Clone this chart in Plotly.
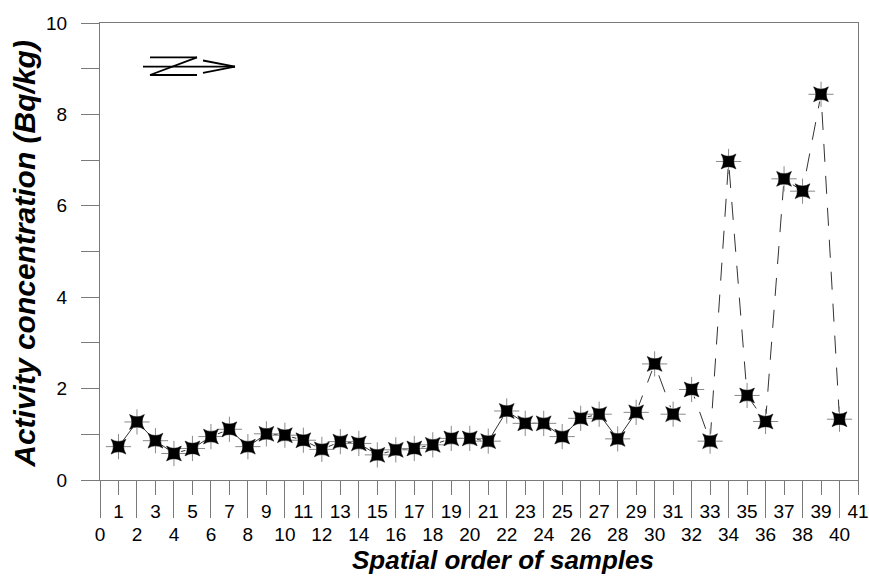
import plotly.graph_objects as go

# ---- data ----
sample_order = list(range(1, 41))
activity = [0.73, 1.27, 0.86, 0.58, 0.69, 0.95, 1.11, 0.73, 1.01, 0.98,
            0.87, 0.67, 0.84, 0.80, 0.55, 0.66, 0.69, 0.77, 0.91, 0.91,
            0.85, 1.51, 1.24, 1.24, 0.95, 1.35, 1.44, 0.90, 1.48, 2.54,
            1.44, 1.98, 0.85, 6.97, 1.85, 1.28, 6.59, 6.32, 8.44, 1.33]
solid_until = 29  # samples 1..29 joined by a solid line, after that dashed

even_ticks = list(range(0, 41, 2))
odd_ticks = list(range(1, 42, 2))
y_ticks = list(range(0, 11))
y_ticktext = [str(v) if v % 2 == 0 else "" for v in y_ticks]

x_title = "Spatial order of samples"
y_title = "Activity concentration (Bq/kg)"

FONT = "Liberation Sans, Arial, sans-serif"
AXC = "#7a7a7a"

fig = go.Figure()

i_split = sample_order.index(solid_until)
fig.add_trace(go.Scatter(x=sample_order[:i_split + 1], y=activity[:i_split + 1],
                         mode="lines", line=dict(color="#333333", width=1),
                         showlegend=False, hoverinfo="skip"))
fig.add_trace(go.Scatter(x=sample_order[i_split:], y=activity[i_split:],
                         mode="lines", line=dict(color="#333333", width=1, dash="18px,14px"),
                         showlegend=False, hoverinfo="skip"))
# white halo to break lines near markers
fig.add_trace(go.Scatter(x=sample_order, y=activity, mode="markers",
                         marker=dict(symbol="circle", size=15, color="white", line=dict(width=0)),
                         showlegend=False, hoverinfo="skip"))
fig.add_trace(go.Scatter(x=sample_order, y=activity, mode="markers",
                         marker=dict(symbol="cross-thin", size=18, line=dict(color="#8a8a8a", width=1)),
                         showlegend=False, hoverinfo="skip"))
fig.add_trace(go.Scatter(x=sample_order, y=activity, mode="markers",
                         marker=dict(symbol="star-diamond", size=15, angle=45, color="black",
                                     line=dict(color="black", width=0.5)),
                         showlegend=False))
# invisible trace for the odd-number axis
fig.add_trace(go.Scatter(x=[odd_ticks[0]], y=[0], xaxis="x2", mode="markers",
                         marker=dict(opacity=0), showlegend=False, hoverinfo="skip"))

fig.update_layout(
    template="none",
    width=869, height=581,
    margin=dict(l=100, r=11, t=23, b=101, pad=0),
    paper_bgcolor="white", plot_bgcolor="white",
    font=dict(family=FONT, size=19, color="black"),
    xaxis=dict(range=[0, 41], tickmode="array", tickvals=even_ticks,
               ticktext=[str(v) for v in even_ticks], automargin=False,
               ticks="outside", ticklen=37, tickwidth=1, tickcolor=AXC,
               showline=True, linecolor=AXC, linewidth=1, mirror=True,
               showgrid=False, zeroline=False, tickfont=dict(size=19)),
    xaxis2=dict(range=[0, 41], overlaying="x", anchor="y", side="bottom",
                tickmode="array", tickvals=odd_ticks, automargin=False,
                ticktext=[str(v) for v in odd_ticks],
                ticks="outside", ticklen=14, tickwidth=1, tickcolor=AXC,
                showline=False, showgrid=False, zeroline=False, tickfont=dict(size=19)),
    yaxis=dict(range=[0, 10], tickmode="array", tickvals=y_ticks, ticktext=y_ticktext,
               ticks="outside", ticklen=18, tickwidth=1, tickcolor=AXC, automargin=False,
               showline=True, linecolor=AXC, linewidth=1, mirror=True,
               showgrid=False, zeroline=False, ticklabelstandoff=10,
               tickfont=dict(size=19)),
    annotations=[
        dict(text="<b><i>" + x_title + "</i></b>", xref="paper", yref="paper",
             x=0.532, y=0, yshift=-80, xanchor="center", yanchor="middle",
             showarrow=False, font=dict(size=26, family=FONT)),
        dict(text="<b><i>" + y_title + "</i></b>", xref="paper", yref="paper",
             x=0, y=0.495, xshift=-75, xanchor="center", yanchor="middle",
             textangle=-90, showarrow=False, font=dict(size=30, family=FONT)),
    ],
)

# north arrow symbol (paper coords)
def px(xp):
    return (xp - 100) / 758.0

def py(yp):
    return (480 - yp) / 457.0

arrow_segments = [
    (150, 57.3, 197, 57.3),
    (197, 57.3, 150, 75.0),
    (150, 75.0, 197, 75.0),
    (143, 66.7, 235, 66.7),
    (203, 60.5, 235, 66.7),
    (203, 72.9, 235, 66.7),
]
for x0, y0, x1, y1 in arrow_segments:
    fig.add_shape(type="line", xref="paper", yref="paper",
                  x0=px(x0), y0=py(y0), x1=px(x1), y1=py(y1),
                  line=dict(color="black", width=1.8))

fig.write_html("out.html", config={"displayModeBar": False},
               post_script="document.body.style.margin='0';document.body.style.padding='0';document.body.style.overflow='hidden';")
